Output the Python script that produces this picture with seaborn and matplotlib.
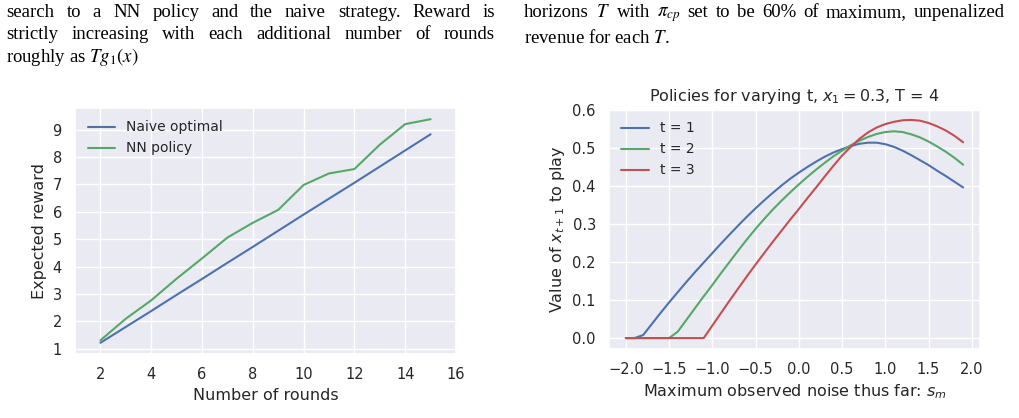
import numpy as np
import pandas as pd
import matplotlib
matplotlib.use("Agg")
import matplotlib.pyplot as plt
import seaborn as sns

# ==========================================
# Data
# ==========================================
rounds = [2, 3, 4, 5, 6, 7, 8, 9, 10, 11, 12, 13, 14, 15]
naive_optimal = [1.22, 1.80, 2.38, 2.97, 3.55, 4.14, 4.72, 5.31, 5.90, 6.48,
                 7.06, 7.65, 8.24, 8.83]
nn_policy = [1.31, 2.10, 2.77, 3.56, 4.30, 5.06, 5.60, 6.07, 6.98, 7.40,
             7.56, 8.45, 9.20, 9.38]

# max observed noise s_m, -2.0 .. 1.9 in steps of 0.1
s_m = [-2.0, -1.9, -1.8, -1.7, -1.6, -1.5, -1.4, -1.3, -1.2, -1.1,
       -1.0, -0.9, -0.8, -0.7, -0.6, -0.5, -0.4, -0.3, -0.2, -0.1,
       0.0, 0.1, 0.2, 0.3, 0.4, 0.5, 0.6, 0.7, 0.8, 0.9,
       1.0, 1.1, 1.2, 1.3, 1.4, 1.5, 1.6, 1.7, 1.8, 1.9]
policy_t1 = [0.0, 0.0, 0.008, 0.037, 0.066, 0.094, 0.121, 0.148, 0.174, 0.199,
             0.224, 0.249, 0.273, 0.297, 0.320, 0.342, 0.363, 0.383, 0.402, 0.420,
             0.436, 0.451, 0.465, 0.478, 0.489, 0.498, 0.506, 0.512, 0.515, 0.515,
             0.511, 0.504, 0.494, 0.482, 0.469, 0.456, 0.441, 0.427, 0.412, 0.397]
policy_t2 = [0.0, 0.0, 0.0, 0.0, 0.0, 0.0, 0.017, 0.048, 0.079, 0.110,
             0.140, 0.171, 0.201, 0.231, 0.260, 0.288, 0.314, 0.339, 0.362, 0.384,
             0.405, 0.425, 0.444, 0.462, 0.479, 0.494, 0.508, 0.520, 0.530, 0.538,
             0.543, 0.545, 0.543, 0.537, 0.529, 0.518, 0.505, 0.491, 0.475, 0.457]
policy_t3 = [0.0, 0.0, 0.0, 0.0, 0.0, 0.0, 0.0, 0.0, 0.0, 0.0,
             0.033, 0.066, 0.099, 0.131, 0.163, 0.194, 0.224, 0.254, 0.283, 0.312,
             0.340, 0.369, 0.397, 0.426, 0.454, 0.481, 0.504, 0.525, 0.542, 0.555,
             0.564, 0.570, 0.574, 0.575, 0.573, 0.567, 0.558, 0.547, 0.533, 0.516]

# surrounding paper text
left_lines = [
    "search to a NN policy and the naive strategy. Reward is",
    "strictly increasing with each additional number of rounds",
    "roughly as $Tg_1(x)$",
]
right_lines = [
    "horizons $T$ with $\\pi_{cp}$ set to be 60% of maximum, unpenalized",
    "revenue for each $T$.",
]

# ==========================================
# Style
# ==========================================
sns.set_theme(style="darkgrid", palette="deep")
deep = sns.color_palette("deep")
TICK, LABEL, LEG = 10.5, 11.5, 10

W, H = 1020, 418
fig = plt.figure(figsize=(W / 100, H / 100), dpi=100)
fig.patch.set_facecolor("white")


def px_axes(left, top, right, bottom):
    return fig.add_axes([left / W, 1 - bottom / H, (right - left) / W, (bottom - top) / H])


# ==========================================
# Left: expected reward vs rounds
# ==========================================
ax1 = px_axes(75, 108, 456, 354)
sns.lineplot(x=rounds, y=naive_optimal, ax=ax1, color=deep[0], lw=1.5, label="Naive optimal")
sns.lineplot(x=rounds, y=nn_policy, ax=ax1, color=deep[2], lw=1.5, label="NN policy")
ax1.set_xlim(1, 16)
ax1.set_xticks(range(2, 17, 2))
ax1.set_yticks(range(1, 10))
ax1.set_xlabel("Number of rounds", fontsize=LABEL)
ax1.set_ylabel("Expected reward", fontsize=LABEL)
ax1.tick_params(labelsize=TICK)
ax1.legend(loc="upper left", frameon=False, fontsize=LEG)

# ==========================================
# Right: policies for varying t
# ==========================================
ax2 = px_axes(609, 109, 980, 349)
for vals, col, lab in [(policy_t1, deep[0], "t = 1"),
                       (policy_t2, deep[2], "t = 2"),
                       (policy_t3, deep[3], "t = 3")]:
    sns.lineplot(x=s_m, y=vals, ax=ax2, color=col, lw=1.5, label=lab)
ax2.set_title("Policies for varying t, $x_1 = 0.3$, T = 4", fontsize=LABEL)
ax2.set_xlabel("Maximum observed noise thus far: $s_m$", fontsize=LABEL)
ax2.set_ylabel("Value of $x_{t+1}$ to play", fontsize=LABEL)
ax2.set_xticks(np.arange(-2.0, 2.01, 0.5))
ax2.tick_params(labelsize=TICK)
ax2.legend(loc="upper left", frameon=False, fontsize=LEG)

# ==========================================
# Paper text around the figures
# ==========================================
renderer = fig.canvas.get_renderer()
TXT = dict(family="Liberation Serif", fontsize=13.5, color="black",
           va="baseline", math_fontfamily="stix")


def put_line(line, x0, y, x1=None):
    if x1 is None:
        fig.text(x0 / W, 1 - y / H, line, ha="left", **TXT)
        return
    words = line.split(" ")
    texts = [fig.text(0, 1 - y / H, w, ha="left", **TXT) for w in words]
    widths = [t.get_window_extent(renderer).width for t in texts]
    gap = (x1 - x0 - sum(widths)) / (len(words) - 1)
    x = x0
    for t, w in zip(texts, widths):
        t.set_x(x / W)
        x += w + gap


put_line(left_lines[0], 6.5, 16.7, 495)
put_line(left_lines[1], 6.5, 39.3, 495)
put_line(left_lines[2], 6.5, 61.7)
put_line(right_lines[0], 524, 16.7, 1005)
put_line(right_lines[1], 524, 43)

fig.savefig("out.png", dpi=100)
